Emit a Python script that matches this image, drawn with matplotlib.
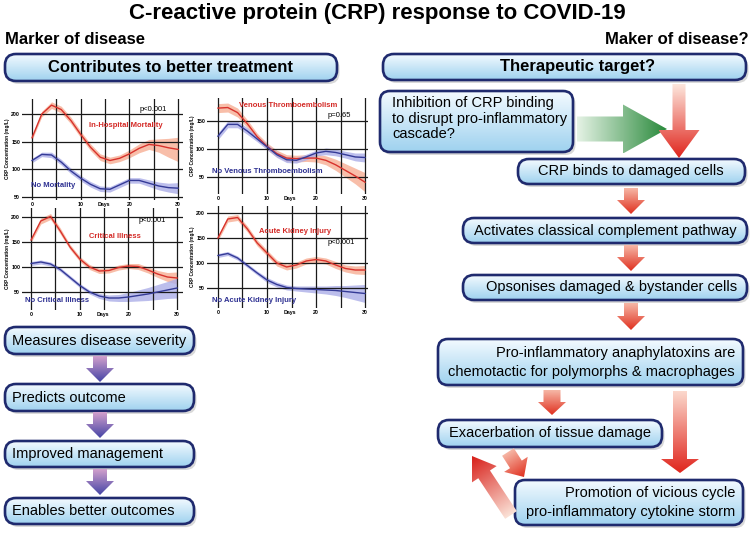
import numpy as np
import matplotlib
matplotlib.use('Agg')
import matplotlib.pyplot as plt
from matplotlib.patches import FancyBboxPatch, Polygon
from matplotlib.colors import LinearSegmentedColormap

plt.rcParams['font.family'] = ['Liberation Sans', 'DejaVu Sans']

# =========================
# data
# =========================
days = [0, 2, 4, 6, 8, 10, 12, 14, 16, 18, 20, 22, 24, 26, 28, 30]

mort_red = [157, 200, 216, 208, 188, 163, 140, 122, 116, 120, 128, 138, 145, 143, 139, 136]
mort_red_w = [4, 5, 6, 6, 6, 6, 6, 6, 6, 6, 7, 8, 9, 12, 17, 22]
mort_blue = [116, 127, 126, 113, 97, 84, 73, 65, 64, 72, 80, 80, 75, 70, 67, 66]
mort_blue_w = [4, 4, 5, 5, 5, 5, 5, 5, 5, 5, 5, 5, 6, 7, 8, 10]

vte_red = [173, 174, 165, 145, 122, 105, 92, 84, 83, 84, 84, 80, 72, 62, 52, 41]
vte_red_w = [8, 8, 8, 7, 6, 6, 6, 6, 6, 6, 7, 8, 10, 12, 14, 17]
vte_blue = [123, 144, 144, 132, 118, 104, 90, 81, 80, 86, 93, 96, 94, 90, 86, 85]
vte_blue_w = [6, 6, 6, 6, 5, 5, 5, 5, 5, 5, 5, 6, 6, 6, 7, 8]

crit_red = [154, 192, 201, 172, 140, 116, 100, 92, 93, 99, 102, 101, 94, 86, 80, 78]
crit_red_w = [5, 6, 6, 6, 5, 5, 5, 5, 5, 5, 5, 6, 6, 7, 9, 12]
crit_blue = [107, 110, 106, 95, 79, 63, 50, 42, 38, 38, 40, 43, 46, 50, 54, 58]
crit_blue_w = [4, 4, 4, 4, 4, 4, 4, 5, 6, 7, 9, 11, 13, 15, 17, 20]

aki_red = [150, 188, 191, 168, 140, 120, 100, 92, 96, 104, 107, 104, 96, 89, 86, 86]
aki_red_w = [5, 6, 6, 6, 6, 6, 6, 6, 6, 6, 6, 6, 7, 7, 8, 9]
aki_blue = [115, 119, 110, 95, 80, 66, 57, 51, 49, 48, 47, 46, 45, 43, 41, 39]
aki_blue_w = [4, 4, 4, 4, 4, 5, 5, 5, 5, 6, 7, 8, 10, 12, 15, 18]

left_steps = ['Measures disease severity', 'Predicts outcome',
              'Improved management', 'Enables better outcomes']

W, H = 754, 537
fig = plt.figure(figsize=(W / 100, H / 100), dpi=100)
ov = fig.add_axes([0, 0, 1, 1])
ov.set_xlim(0, W)
ov.set_ylim(H, 0)
ov.axis('off')

RED = '#d42a26'
BLUE = '#2e3192'


def px_axes(x0, y0, x1, y1):
    return fig.add_axes([x0 / W, 1 - y1 / H, (x1 - x0) / W, (y1 - y0) / H])


box_cmap = LinearSegmentedColormap.from_list('box', ['#f3faff', '#9fd2ef'])


def gbox(x0, y0, x1, y1, r=11):
    r = min(r, (y1 - y0) / 2 - 0.5)
    sh = FancyBboxPatch((x0 + r + 2.5, y0 + r + 3), x1 - x0 - 2 * r, y1 - y0 - 2 * r,
                        boxstyle='round,pad=%g' % r, fc='#000000', alpha=0.15,
                        ec='none', zorder=1)
    ov.add_patch(sh)
    p = FancyBboxPatch((x0 + r, y0 + r), x1 - x0 - 2 * r, y1 - y0 - 2 * r,
                       boxstyle='round,pad=%g' % r, fc='none', ec='#1f2a6e',
                       lw=1.9, zorder=3)
    ov.add_patch(p)
    g = np.linspace(0, 1, 64).reshape(-1, 1)
    im = ov.imshow(g, extent=(x0, x1, y1, y0), cmap=box_cmap, aspect='auto',
                   zorder=2, interpolation='bilinear')
    im.set_clip_path(p)


def garrow(tail, tip, sw, hw, hl, c0, c1):
    tail = np.array(tail, float)
    tip = np.array(tip, float)
    d = tip - tail
    L = np.hypot(*d)
    u = d / L
    n = np.array([-u[1], u[0]])
    b = tip - u * hl
    pts = [tail + n * sw / 2, b + n * sw / 2, b + n * hw / 2, tip,
           b - n * hw / 2, b - n * sw / 2, tail - n * sw / 2]
    poly = Polygon(pts, closed=True, fc='none', ec='none', zorder=4)
    ov.add_patch(poly)
    xs = [p[0] for p in pts]
    ys = [p[1] for p in pts]
    x0, x1, y0, y1 = min(xs), max(xs), min(ys), max(ys)
    gx, gy = np.meshgrid(np.linspace(x0, x1, 80), np.linspace(y0, y1, 80))
    t = ((gx - tail[0]) * u[0] + (gy - tail[1]) * u[1]) / L
    cmap = LinearSegmentedColormap.from_list('a', [c0, c1])
    im = ov.imshow(np.clip(t, 0, 1), extent=(x0, x1, y1, y0), origin='upper',
                   cmap=cmap, vmin=0, vmax=1, aspect='auto', zorder=4,
                   interpolation='bilinear')
    im.set_clip_path(poly)


def chart(rect, xlim, ylim, yticks, red, red_w, blue, blue_w, labels):
    ax = px_axes(*rect)
    ax.set_xlim(xlim)
    ax.set_ylim(ylim)
    ax.patch.set_alpha(0)
    for v in range(0, 31, 5):
        ax.axvline(v, color='#1a1a1a', lw=0.9, zorder=2)
    for v in yticks:
        ax.axhline(v, color='#1a1a1a', lw=0.9, zorder=2)
    red = np.array(red, float)
    blue = np.array(blue, float)
    ax.fill_between(days, red - np.array(red_w), red + np.array(red_w),
                    color='#f7ae94', alpha=0.8, lw=0, zorder=1)
    ax.fill_between(days, blue - np.array(blue_w), blue + np.array(blue_w),
                    color='#acaee8', alpha=0.8, lw=0, zorder=1)
    ax.plot(days, red, color='#d8322c', lw=1.0, zorder=3)
    ax.plot(days, blue, color='#343a96', lw=1.0, zorder=3)
    for s in ax.spines.values():
        s.set_visible(False)
    ax.set_xticks([0, 10, 14.7, 20, 30])
    ax.set_xticklabels(['0', '10', 'Days', '20', '30'], fontsize=3.8,
                       fontweight='bold')
    ax.set_yticks(yticks)
    ax.set_yticklabels([str(v) for v in yticks], fontsize=3.8, fontweight='bold')
    ax.tick_params(length=0, pad=1.5)
    ax.set_ylabel('CRP Concentration (mg/L)', fontsize=3.4, fontweight='bold',
                  labelpad=1)
    for (x, y, s, c) in labels:
        ax.text(x, y, s, color=c, fontsize=5.5,
                fontweight='normal' if c == 'k' else 'bold',
                ha='center', va='center', zorder=5)
    return ax


chart((22.3, 98.5, 183, 199.8), (-2, 31), (45, 228), [50, 100, 150, 200],
      mort_red, mort_red_w, mort_blue, mort_blue_w,
      [(24.8, 209, 'p<0.001', 'k'), (19.3, 179, 'In-Hospital Mortality', RED),
       (4.4, 70, 'No Mortality', BLUE)])
chart((207.2, 98, 368, 194), (-2.2, 30.6), (20, 191), [50, 100, 150],
      vte_red, vte_red_w, vte_blue, vte_blue_w,
      [(24.7, 159, 'p=0.65', 'k'), (14.4, 177, 'Venous Thromboembolism', RED),
       (10, 59.5, 'No Venous Thromboembolism', BLUE)])
chart((22.3, 208, 183, 310), (-1.8, 31.2), (14, 218), [50, 100, 150, 200],
      crit_red, crit_red_w, crit_blue, crit_blue_w,
      [(24.8, 192, 'p<0.001', 'k'), (17.2, 160.6, 'Critical Illness', RED),
       (5.4, 34, 'No Critical Illness', BLUE)])
chart((207.2, 206, 368, 308), (-2.2, 30.6), (10, 214), [50, 100, 150, 200],
      aki_red, aki_red_w, aki_blue, aki_blue_w,
      [(25.1, 140.6, 'p<0.001', 'k'), (15.7, 162.6, 'Acute Kidney Injury', RED),
       (7.4, 26, 'No Acute Kidney Injury', BLUE)])

# =========================
# headings
# =========================
ov.text(377, 13.5, 'C-reactive protein (CRP) response to COVID-19', fontsize=16,
        fontweight='bold', ha='center', va='center')
ov.text(5, 39.5, 'Marker of disease', fontsize=12, fontweight='bold',
        ha='left', va='center')
ov.text(749, 39.5, 'Maker of disease?', fontsize=12, fontweight='bold',
        ha='right', va='center')

# =========================
# left column
# =========================
gbox(5, 54, 337, 81)
ov.text(171, 67.5, 'Contributes to better treatment', fontsize=12,
        fontweight='bold', ha='center', va='center', zorder=5)

left_y = [(327, 354), (384, 411), (441, 467), (498, 524)]
for (y0, y1), s in zip(left_y, left_steps):
    gbox(5, y0, 194, y1)
    ov.text(12, (y0 + y1) / 2, s, fontsize=10.5, ha='left', va='center', zorder=5)
for y0, y1 in [(356, 382), (412, 438), (469, 495)]:
    garrow((100, y0), (100, y1), 14, 28, 14, '#d2a0cc', '#4545a6')

# =========================
# right column
# =========================
gbox(383, 54, 746, 80)
ov.text(578, 67, 'Therapeutic target?', fontsize=12, fontweight='bold',
        ha='center', va='center', zorder=5)

gbox(380, 91, 573, 152, r=10)
for y, s in zip([103, 119, 134], ['Inhibition of CRP binding',
                                  'to disrupt pro-inflammatory', 'cascade?']):
    ov.text(392, y, s, fontsize=10.5, ha='left', va='center', zorder=5)

garrow((577, 129), (667, 129), 25, 49, 44, '#e4f2e4', '#2a8a3c')
garrow((679, 84), (679, 158), 13, 41, 28, '#fde6dc', '#e0261e')

gbox(518, 159, 745, 184)
ov.text(631, 171.5, 'CRP binds to damaged cells', fontsize=10.5,
        ha='center', va='center', zorder=5)
garrow((631, 188), (631, 214), 14, 28, 14, '#f6b7a6', '#e0301f')

gbox(463, 218, 747, 243)
ov.text(605, 230.5, 'Activates classical complement pathway', fontsize=10.5,
        ha='center', va='center', zorder=5)
garrow((631, 245), (631, 271), 14, 28, 14, '#f6b7a6', '#e0301f')

gbox(463, 275, 747, 300)
ov.text(737, 287.5, 'Opsonises damaged & bystander cells', fontsize=10.5,
        ha='right', va='center', zorder=5)
garrow((631, 303), (631, 330), 14, 28, 14, '#f6b7a6', '#e0301f')

gbox(438, 339, 743, 385, r=10)
ov.text(735, 353, 'Pro-inflammatory anaphylatoxins are', fontsize=10.5,
        ha='right', va='center', zorder=5)
ov.text(735, 372, 'chemotactic for polymorphs & macrophages', fontsize=10.5,
        ha='right', va='center', zorder=5)

garrow((552, 390), (552, 415), 17, 28, 13, '#f6b7a6', '#e0301f')
garrow((680, 391), (680, 473), 14, 38, 14, '#fbd8cc', '#e0261e')

gbox(438, 420, 662, 447)
ov.text(550, 433.5, 'Exacerbation of tissue damage', fontsize=10.5,
        ha='center', va='center', zorder=5)

garrow((508, 452), (524, 477), 14, 28, 15, '#f6b7a6', '#e0301f')
garrow((511, 515), (472, 456), 14, 30, 22, '#fbe3d8', '#d8201a')

gbox(515, 480, 743, 525, r=10)
ov.text(735, 493, 'Promotion of vicious cycle', fontsize=10.5,
        ha='right', va='center', zorder=5)
ov.text(735, 512, 'pro-inflammatory cytokine storm', fontsize=10.5,
        ha='right', va='center', zorder=5)

ov.set_xlim(0, W)
ov.set_ylim(H, 0)

fig.savefig('out.png', dpi=100)
